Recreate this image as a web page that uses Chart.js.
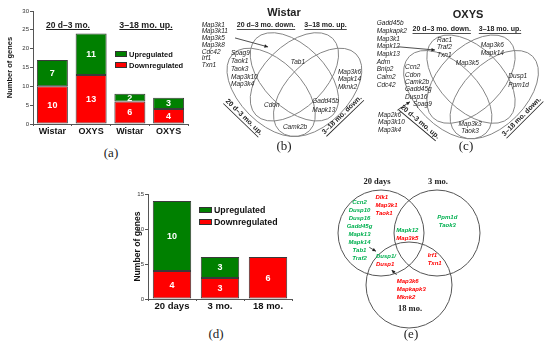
<!DOCTYPE html>
<html>
<head>
<meta charset="utf-8">
<script src="https://cdn.jsdelivr.net/npm/chart.js@4.4.0/dist/chart.umd.min.js"></script>
<style>
  html, body { margin: 0; padding: 0; background: #fff; }
  #page { position: relative; width: 550px; height: 345px; overflow: hidden; font-family: "Liberation Sans", Arial, sans-serif; }
  #page canvas { position: absolute; }
  .head { position: absolute; font-weight: bold; text-decoration: underline; transform: translate(-50%, -50%); color: #222; white-space: nowrap; }
  .key { position: absolute; display: flex; align-items: center; font-weight: bold; color: #111; white-space: nowrap; }
  .key i { display: block; border: 1px solid #333; box-sizing: border-box; margin-right: 2px; }
  .tag { position: absolute; font-family: "Liberation Serif", "Times New Roman", serif; font-size: 13px; color: #222; transform: translate(-50%, -50%); }
</style>
</head>
<body>
<div id="page">
  <canvas id="chartA" width="190" height="140" style="left:0;top:0"></canvas>
  <canvas id="vennB" width="175" height="150" style="left:190px;top:0"></canvas>
  <canvas id="vennC" width="185" height="150" style="left:365px;top:0"></canvas>
  <canvas id="chartD" width="170" height="135" style="left:130px;top:180px"></canvas>
  <canvas id="vennE" width="190" height="160" style="left:320px;top:170px"></canvas>

  <div class="head" style="left:68px;top:25px;font-size:8.5px">20 d–3 mo.</div>
  <div class="head" style="left:146px;top:25px;font-size:8.8px">3–18 mo. up.</div>

  <div class="key" style="left:115px;top:50px;height:8px;font-size:7.5px"><i style="width:12px;height:6px;background:#008000"></i>Upregulated</div>
  <div class="key" style="left:115px;top:61px;height:8px;font-size:7.5px"><i style="width:12px;height:6px;background:#ff0000"></i>Downregulated</div>
  <div class="key" style="left:199px;top:206px;height:8px;font-size:8.8px"><i style="width:13px;height:6px;background:#008000"></i>Upregulated</div>
  <div class="key" style="left:199px;top:218px;height:8px;font-size:8.8px"><i style="width:13px;height:6px;background:#ff0000"></i>Downregulated</div>

  <div class="tag" style="left:111px;top:153px">(a)</div>
  <div class="tag" style="left:284px;top:146px">(b)</div>
  <div class="tag" style="left:466px;top:146px">(c)</div>
  <div class="tag" style="left:216px;top:334px">(d)</div>
  <div class="tag" style="left:411px;top:334px">(e)</div>
</div>

<script>
// (a) number of genes per strain and age interval
const groupsA = ['Wistar', 'OXYS', 'Wistar', 'OXYS'];
const downA = [10, 13, 6, 4];
const upA = [7, 11, 2, 3];

// (d) number of genes per age
const agesD = ['20 days', '3 mo.', '18 mo.'];
const downD = [4, 3, 6];
const upD = [10, 3, 0];

// (b), (c) set names of the four-set diagrams
const setNames = ['20 d–3 mo. up.', '20 d–3 mo. down.', '3–18 mo. up.', '3–18 mo. down.'];

// (b) Wistar genes by region
const wistarDownOnly = ['Map3k1', 'Map3k11', 'Map3k5', 'Map3k8', 'Cdc42', 'Irf1', 'Txn1'];
const wistarUpOnly = ['Spag9', 'Taok1', 'Taok3', 'Map3k10', 'Map3k4'];
const wistarDownThenUp = ['Tab1'];
const wistarLateDownOnly = ['Map3k6', 'Mapk14', 'Mknk2'];
const wistarUpThenUp = ['Cdon'];
const wistarDownThenDown = ['Gadd45b', 'Mapk13'];
const wistarUpThenDown = ['Camk2b'];

// (c) OXYS genes by region
const oxysDownOnly = ['Gadd45b', 'Mapkapk2', 'Map3k1', 'Mapk12', 'Mapk13', 'Adm', 'Bnip2', 'Calm2', 'Cdc42'];
const oxysDownOnlyIn = ['Rac1', 'Traf2', 'Txn1'];
const oxysLateUpOnly = ['Map3k6', 'Mapk14'];
const oxysDownThenUp = ['Map3k5'];
const oxysUpOnly = ['Ccn2', 'Cdon', 'Camk2b', 'Gadd45g', 'Dusp16', 'Spag9'];
const oxysUpOnlyOut = ['Map2k6', 'Map3k10', 'Map3k4'];
const oxysLateDownOnly = ['Dusp1', 'Ppm1d'];
const oxysUpThenDown = ['Map3k3', 'Taok3'];

// (e) three ages
const agesE = ['20 days', '3 mo.', '18 mo.'];
const e20Up = ['Ccn2', 'Dusp10', 'Dusp16', 'Gadd45g', 'Mapk13', 'Mapk14', 'Tab1', 'Traf2'];
const e20Down = ['Dlk1', 'Map3k1', 'Taok1'];
const e20and3Up = ['Mapk12'];
const e20and3Down = ['Map3k5'];
const e3Up = ['Ppm1d', 'Taok3'];
const e20and18Up = ['Dusp1/'];
const e20and18Down = ['Dusp1'];
const e3and18Down = ['Irf1', 'Txn1'];
const e18Down = ['Map3k6', 'Mapkapk3', 'Mknk2'];

const SANS = '"Liberation Sans", Arial, sans-serif';
const SERIF = '"Liberation Serif", "Times New Roman", serif';
const GREEN = '#008000';
const RED = '#ff0000';
const EDGE = '#3a3a3a';
const TXT_GREEN = '#00b050';

Chart.defaults.font.family = SANS;

const barValues = {
  id: 'barValues',
  afterDatasetsDraw(chart, args, opts) {
    const ctx = chart.ctx;
    ctx.save();
    ctx.fillStyle = '#fff';
    ctx.font = 'bold ' + opts.size + 'px ' + SANS;
    ctx.textAlign = 'center';
    ctx.textBaseline = 'middle';
    chart.data.datasets.forEach((ds, i) => {
      chart.getDatasetMeta(i).data.forEach((bar, j) => {
        const v = ds.data[j];
        if (!v) return;
        ctx.fillText(String(v), bar.x, (bar.y + bar.base) / 2 + 0.5);
      });
    });
    ctx.restore();
  }
};

function stackedBars(id, labels, down, up, o) {
  const common = { borderColor: EDGE, borderWidth: 1, borderSkipped: false, barPercentage: o.bar, categoryPercentage: 1 };
  return new Chart(document.getElementById(id), {
    type: 'bar',
    data: {
      labels: labels,
      datasets: [
        Object.assign({ label: 'Downregulated', data: down, backgroundColor: RED }, common),
        Object.assign({ label: 'Upregulated', data: up, backgroundColor: GREEN }, common)
      ]
    },
    options: {
      responsive: false,
      animation: false,
      events: [],
      layout: { padding: o.pad },
      plugins: { legend: { display: false }, tooltip: { enabled: false }, barValues: { size: o.valueSize } },
      scales: {
        x: {
          stacked: true,
          grid: { drawOnChartArea: false, tickLength: 2, color: '#555' },
          border: { color: '#555' },
          ticks: { font: { weight: 'bold', size: o.labelSize }, color: '#111', padding: 0 },
          afterFit: s => { s.height = o.xHeight; }
        },
        y: {
          stacked: true,
          min: 0,
          max: o.max,
          ticks: { stepSize: 5, font: { size: 6 }, color: '#333', padding: 1 },
          grid: { drawOnChartArea: false, tickLength: 3, color: '#555' },
          border: { color: '#555' },
          title: { display: true, text: 'Number of genes', color: '#111', font: { weight: 'bold', size: o.titleSize }, padding: { top: o.titlePad, bottom: 0 } },
          afterFit: s => { s.width = o.yWidth; }
        }
      }
    },
    plugins: [barValues]
  });
}

stackedBars('chartA', groupsA, downA, upA, {
  bar: 0.8, max: 30, valueSize: 9, labelSize: 9, titleSize: 7.5, titlePad: 5,
  xHeight: 16, yWidth: 33, pad: { top: 11, right: 2, left: 0, bottom: 0 }
});
stackedBars('chartD', agesD, downD, upD, {
  bar: 0.8, max: 15, valueSize: 9, labelSize: 9.5, titleSize: 8.6, titlePad: 2,
  xHeight: 16, yWidth: 18, pad: { top: 14, right: 8, left: 0, bottom: 0 }
});

// Venn drawing through the chart's own linear scales
function vennChart(id, view, spec) {
  const plugin = {
    id: 'venn',
    afterDraw(chart) {
      const { ctx } = chart;
      const sx = chart.scales.x, sy = chart.scales.y;
      const px = v => sx.getPixelForValue(v);
      const py = v => sy.getPixelForValue(v);
      const k = Math.abs(px(1) - px(0));
      ctx.save();
      ctx.strokeStyle = spec.stroke;
      ctx.lineWidth = 1;
      spec.shapes.forEach(s => {
        ctx.beginPath();
        ctx.ellipse(px(s.x), py(s.y), s.rx * k, s.ry * k, s.rot * Math.PI / 180, 0, Math.PI * 2);
        ctx.stroke();
      });
      spec.texts.forEach(t => {
        ctx.save();
        ctx.translate(px(t.x), py(t.y));
        if (t.rot) ctx.rotate(t.rot * Math.PI / 180);
        ctx.font = t.font;
        ctx.fillStyle = t.color || '#222';
        ctx.textAlign = t.align || 'center';
        ctx.textBaseline = 'middle';
        t.lines.forEach((line, i) => {
          const yy = i * (t.gap || 0);
          ctx.fillText(line, 0, yy);
          if (t.underline) {
            const w = ctx.measureText(line).width;
            const x0 = ctx.textAlign === 'left' ? 0 : -w / 2;
            ctx.fillRect(x0, yy + t.size * 0.6, w, 0.8);
          }
        });
        ctx.restore();
      });
      ctx.fillStyle = '#222';
      ctx.strokeStyle = '#222';
      ctx.lineWidth = 0.8;
      (spec.arrows || []).forEach(a => {
        const x1 = px(a[0]), y1 = py(a[1]), x2 = px(a[2]), y2 = py(a[3]);
        const ang = Math.atan2(y2 - y1, x2 - x1);
        ctx.beginPath();
        ctx.moveTo(x1, y1);
        ctx.lineTo(x2, y2);
        ctx.stroke();
        ctx.beginPath();
        ctx.moveTo(x2, y2);
        ctx.lineTo(x2 - 4 * Math.cos(ang - 0.45), y2 - 4 * Math.sin(ang - 0.45));
        ctx.lineTo(x2 - 4 * Math.cos(ang + 0.45), y2 - 4 * Math.sin(ang + 0.45));
        ctx.closePath();
        ctx.fill();
      });
      ctx.restore();
    }
  };
  return new Chart(document.getElementById(id), {
    type: 'scatter',
    data: { datasets: [{ data: spec.shapes.map(s => ({ x: s.x, y: s.y })), pointRadius: 0 }] },
    options: {
      responsive: false,
      animation: false,
      events: [],
      layout: { padding: 0 },
      plugins: { legend: { display: false }, tooltip: { enabled: false } },
      scales: {
        x: { type: 'linear', min: view[0], max: view[1], display: false },
        y: { type: 'linear', min: view[2], max: view[3], reverse: true, display: false }
      }
    },
    plugins: [plugin]
  });
}

// classic four-ellipse layout, in units of the diagram frame (0..100)
const quad = [
  { x: 35, y: 53, rx: 35, ry: 20, rot: 45 },
  { x: 50, y: 43, rx: 35, ry: 20, rot: 45 },
  { x: 50, y: 43, rx: 35, ry: 20, rot: -45 },
  { x: 65, y: 53, rx: 35, ry: 20, rot: -45 }
];

const GENE = 'italic 6.5px ' + SANS;
const SET = 'bold 7px ' + SANS;

function setLabel(name, x, y, rot) {
  return { x, y, lines: [name], font: SET, size: 7, underline: true, rot: rot };
}

vennChart('vennB', [-17.35, 95.55, -6.58, 90.19], {
  stroke: '#858585',
  shapes: quad,
  texts: [
    { x: 43.3, y: 1.8, lines: ['Wistar'], font: 'bold 11px ' + SANS },
    setLabel(setNames[1], 31.7, 9.5, 0),
    setLabel(setNames[2], 70.1, 9.5, 0),
    setLabel(setNames[0], 17.5, 68.9, 44),
    setLabel(setNames[3], 80.7, 67.6, -44),
    { x: -9.8, y: 9.5, lines: wistarDownOnly, font: GENE, align: 'left', gap: 6.7 },
    { x: 9.1, y: 27.8, lines: wistarUpOnly, font: GENE, align: 'left', gap: 7.8 },
    { x: 52.3, y: 33.4, lines: wistarDownThenUp, font: GENE },
    { x: 78.1, y: 39.7, lines: wistarLateDownOnly, font: GENE, align: 'left', gap: 7.5 },
    { x: 35.4, y: 61.2, lines: wistarUpThenUp, font: GENE },
    { x: 61.5, y: 59, lines: wistarDownThenDown, font: GENE, align: 'left', gap: 8.3 },
    { x: 50.4, y: 75.2, lines: wistarUpThenDown, font: GENE }
  ],
  arrows: [[11.7, 17.9, 33, 23.7]]
});

vennChart('vennC', [-18.39, 100.97, -8.06, 88.71], {
  stroke: '#858585',
  shapes: quad,
  texts: [
    { x: 48.1, y: 1.6, lines: ['OXYS'], font: 'bold 11px ' + SANS },
    setLabel(setNames[1], 31.1, 10.6, 0),
    setLabel(setNames[2], 68.7, 10.6, 0),
    setLabel(setNames[0], 17.1, 70.5, 40),
    setLabel(setNames[3], 82.7, 67.2, -45),
    { x: -10.8, y: 7.0, lines: oxysDownOnly, font: GENE, align: 'left', gap: 7.7 },
    { x: 28.1, y: 17.7, lines: oxysDownOnlyIn, font: GENE, align: 'left', gap: 7.5 },
    { x: 56.3, y: 21, lines: oxysLateUpOnly, font: GENE, align: 'left', gap: 8.2 },
    { x: 47.6, y: 32.8, lines: oxysDownThenUp, font: GENE },
    { x: 7.4, y: 35.4, lines: oxysUpOnly.slice(0, 5), font: GENE, align: 'left', gap: 7.4 },
    { x: 12.6, y: 59.4, lines: oxysUpOnly.slice(5), font: GENE, align: 'left' },
    { x: -10, y: 66.1, lines: oxysUpOnlyOut, font: GENE, align: 'left', gap: 7.5 },
    { x: 74.1, y: 41.4, lines: oxysLateDownOnly, font: GENE, align: 'left', gap: 8.3 },
    { x: 49.4, y: 71.9, lines: oxysUpThenDown, font: GENE, gap: 7.7 }
  ],
  arrows: [[2.9, 22.1, 26.8, 24.2], [2.5, 63, 10.6, 57.6]]
});

const GENE_E = 'bold italic 6px ' + SANS;
const AGE = 'bold 8.5px ' + SERIF;

vennChart('vennE', [0, 190, 0, 160], {
  stroke: '#555',
  shapes: [
    { x: 61, y: 63, rx: 43, ry: 43, rot: 0 },
    { x: 117, y: 63, rx: 43, ry: 43, rot: 0 },
    { x: 89, y: 115, rx: 43, ry: 43, rot: 0 }
  ],
  texts: [
    { x: 57, y: 12, lines: [agesE[0]], font: AGE },
    { x: 118, y: 12, lines: [agesE[1]], font: AGE },
    { x: 90, y: 139, lines: [agesE[2]], font: AGE },
    { x: 39.5, y: 32, lines: e20Up, font: GENE_E, color: TXT_GREEN, gap: 8 },
    { x: 55.5, y: 27, lines: e20Down, font: GENE_E, color: RED, align: 'left', gap: 8 },
    { x: 87.3, y: 60.7, lines: e20and3Up, font: GENE_E, color: TXT_GREEN },
    { x: 87.3, y: 68.7, lines: e20and3Down, font: GENE_E, color: RED },
    { x: 127.3, y: 47.7, lines: e3Up, font: GENE_E, color: TXT_GREEN, gap: 8 },
    { x: 56, y: 86, lines: e20and18Up, font: GENE_E, color: TXT_GREEN, align: 'left' },
    { x: 56, y: 94, lines: e20and18Down, font: GENE_E, color: RED, align: 'left' },
    { x: 107.7, y: 85.7, lines: e3and18Down, font: GENE_E, color: RED, align: 'left', gap: 8 },
    { x: 76.7, y: 111.7, lines: e18Down, font: GENE_E, color: RED, align: 'left', gap: 8 }
  ],
  arrows: [[49.3, 77.3, 56, 81.3], [76.7, 105, 71.7, 100]]
});
</script>
</body>
</html>
